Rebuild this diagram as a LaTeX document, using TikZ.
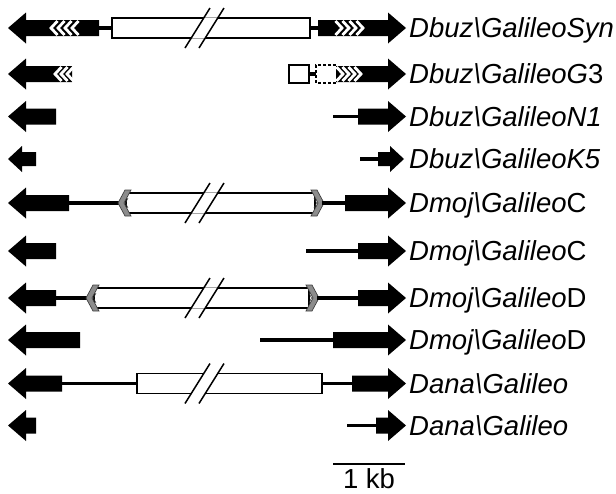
\documentclass[tikz,border=0pt]{standalone}
\usepackage{fontspec}
\setmainfont{Liberation Sans}
\begin{document}
\begin{tikzpicture}[x=1pt,y=-1pt,
  lbl/.style={anchor=base west, inner sep=0pt, font=\fontsize{27.5}{30}\selectfont},
  stemline/.style={line width=3.5pt},
  genebox/.style={line width=1.2pt, fill=white},
  capstyle/.style={fill=black!45, draw=black!75, line width=0.7pt, line join=miter},
  wchev/.style={white, line width=2.8pt}]
\useasboundingbox (0,0) rectangle (616,493);
% left-pointing arrow: yc, tip, end
\newcommand\LArr[3]{\fill (#2,#1) -- (#2+18,#1-15.5) -- (#2+18,#1-8) -- (#3,#1-8) -- (#3,#1+8) -- (#2+18,#1+8) -- (#2+18,#1+15.5) -- cycle;}
% right-pointing arrow: yc, start, tip
\newcommand\RArr[3]{\fill (#2,#1-8) -- (#3-18,#1-8) -- (#3-18,#1-15.5) -- (#3,#1) -- (#3-18,#1+15.5) -- (#3-18,#1+8) -- (#2,#1+8) -- cycle;}
\newcommand\Stem[3]{\draw[stemline] (#2,#1) -- (#3,#1);}
\newcommand\GBox[3]{\draw[genebox] (#2,#1-10) rectangle (#3,#1+10);}
\newcommand\Brk[1]{%
  \fill[white] (197.5+6.6,#1-10.7) -- (211.5+6.6,#1-10.7) -- (211.5-6.6,#1+10.7) -- (197.5-6.6,#1+10.7) -- cycle;
  \draw[line width=1.5pt] (197.5+12.5,#1-20) -- (197.5-12.5,#1+20) (211.5+12.5,#1-20) -- (211.5-12.5,#1+20);}
\newcommand\CapL[2]{\filldraw[capstyle] (#2,#1) -- (#2+7,#1-13) -- (#2+13,#1-13) -- (#2+6,#1) -- (#2+13,#1+13) -- (#2+7,#1+13) -- cycle;
  \draw[black!80, line width=0.6pt] (#2+10,#1-5) -- (#2+7.5,#1) -- (#2+10,#1+5);}
\newcommand\CapR[2]{\filldraw[capstyle] (#2,#1) -- (#2-7,#1-13) -- (#2-13,#1-13) -- (#2-6,#1) -- (#2-13,#1+13) -- (#2-7,#1+13) -- cycle;
  \draw[black!80, line width=0.6pt] (#2-10,#1-5) -- (#2-7.5,#1) -- (#2-10,#1+5);}
% white chevrons: yc, first tip, count, spacing, direction
\newcommand\WChev[5]{\foreach \i in {1,...,#3}{\draw[wchev] ({#2+#4*(\i-1)+#5*6.5},#1-7) -- ({#2+#4*(\i-1)},#1) -- ({#2+#4*(\i-1)+#5*6.5},#1+7);}}

% Row 1: Dbuz\GalileoSyn
\LArr{28}{8}{99}
\WChev{28}{51}{4}{7}{1}
\Stem{28}{99}{112}
\GBox{28}{112}{310}
\Brk{28}
\Stem{28}{310}{318}
\RArr{28}{318}{406}
\WChev{28}{342}{4}{7}{-1}
\node[lbl] (t1) at (409,37.7) {\itshape Dbuz\textbackslash GalileoSyn};

% Row 2: Dbuz\GalileoG3
\LArr{74}{8}{72}
\WChev{74}{55}{3}{6}{1}
\draw[line width=1.2pt, fill=white] (289,65) rectangle (309,83);
\Stem{74}{309}{316}
\RArr{74}{336}{406}
\draw[line width=1.1pt, fill=white, dash pattern=on 3pt off 2pt] (336,65) -- (316,65) -- (316,83) -- (336,83);
\WChev{74}{343}{4}{6}{-1}
\node[lbl] (t2) at (409,83.7) {\itshape Dbuz\textbackslash GalileoG\upshape 3};

% Row 3: Dbuz\GalileoN1
\LArr{116.5}{8}{56}
\Stem{116.5}{333}{360}
\RArr{116.5}{358}{406}
\node[lbl] (t3) at (409,126.2) {\itshape Dbuz\textbackslash GalileoN1};

% Row 4: Dbuz\GalileoK5 (small)
\fill (8,159) -- (22,146) -- (22,152) -- (36,152) -- (36,166) -- (22,166) -- (22,172) -- cycle;
\Stem{159}{360}{380}
\fill (378,152) -- (390,152) -- (390,146) -- (404,159) -- (390,172) -- (390,166) -- (378,166) -- cycle;
\node[lbl] (t4) at (409,168.7) {\itshape Dbuz\textbackslash GalileoK5};

% Row 5: Dmoj\GalileoC
\LArr{203}{8}{69}
\Stem{203}{69}{122}
\GBox{203}{126}{315}
\Brk{203}
\CapL{203}{118}
\CapR{203}{324}
\Stem{203}{322}{347}
\RArr{203}{345}{406}
\node[lbl] (t5) at (409,212.7) {\itshape Dmoj\textbackslash Galileo\upshape C};

% Row 6: Dmoj\GalileoC
\LArr{251}{8}{56}
\Stem{251}{306}{360}
\RArr{251}{358}{406}
\node[lbl] (t6) at (409,260.7) {\itshape Dmoj\textbackslash Galileo\upshape C};

% Row 7: Dmoj\GalileoD
\LArr{298}{8}{56}
\Stem{298}{56}{90}
\GBox{298}{94}{309}
\Brk{298}
\CapL{298}{86}
\CapR{298}{319}
\Stem{298}{317}{360}
\RArr{298}{358}{406}
\node[lbl] (t7) at (409,307.7) {\itshape Dmoj\textbackslash Galileo\upshape D};

% Row 8: Dmoj\GalileoD
\LArr{340}{8}{80}
\Stem{340}{260}{335}
\RArr{340}{333}{406}
\node[lbl] (t8) at (409,349.7) {\itshape Dmoj\textbackslash Galileo\upshape D};

% Row 9: Dana\Galileo
\LArr{383.5}{8}{62}
\Stem{383.5}{62}{137}
\GBox{383.5}{137}{322}
\Brk{383.5}
\Stem{383.5}{322}{354}
\RArr{383.5}{352}{406}
\node[lbl] (t9) at (409,393.2) {\itshape Dana\textbackslash Galileo};

% Row 10: Dana\Galileo
\LArr{425.5}{8}{36}
\Stem{425.5}{347}{378}
\RArr{425.5}{376}{406}
\node[lbl] (t10) at (409,435.2) {\itshape Dana\textbackslash Galileo};

% Scale bar
\coordinate (sbl) at (333,464);
\coordinate (sbr) at (405,464);
\draw[line width=1.6pt] (sbl) -- (sbr);
\node[anchor=base, inner sep=0pt, font=\fontsize{27.5}{30}\selectfont] (kb) at (369,488) {1 kb};
\end{tikzpicture}
\end{document}
